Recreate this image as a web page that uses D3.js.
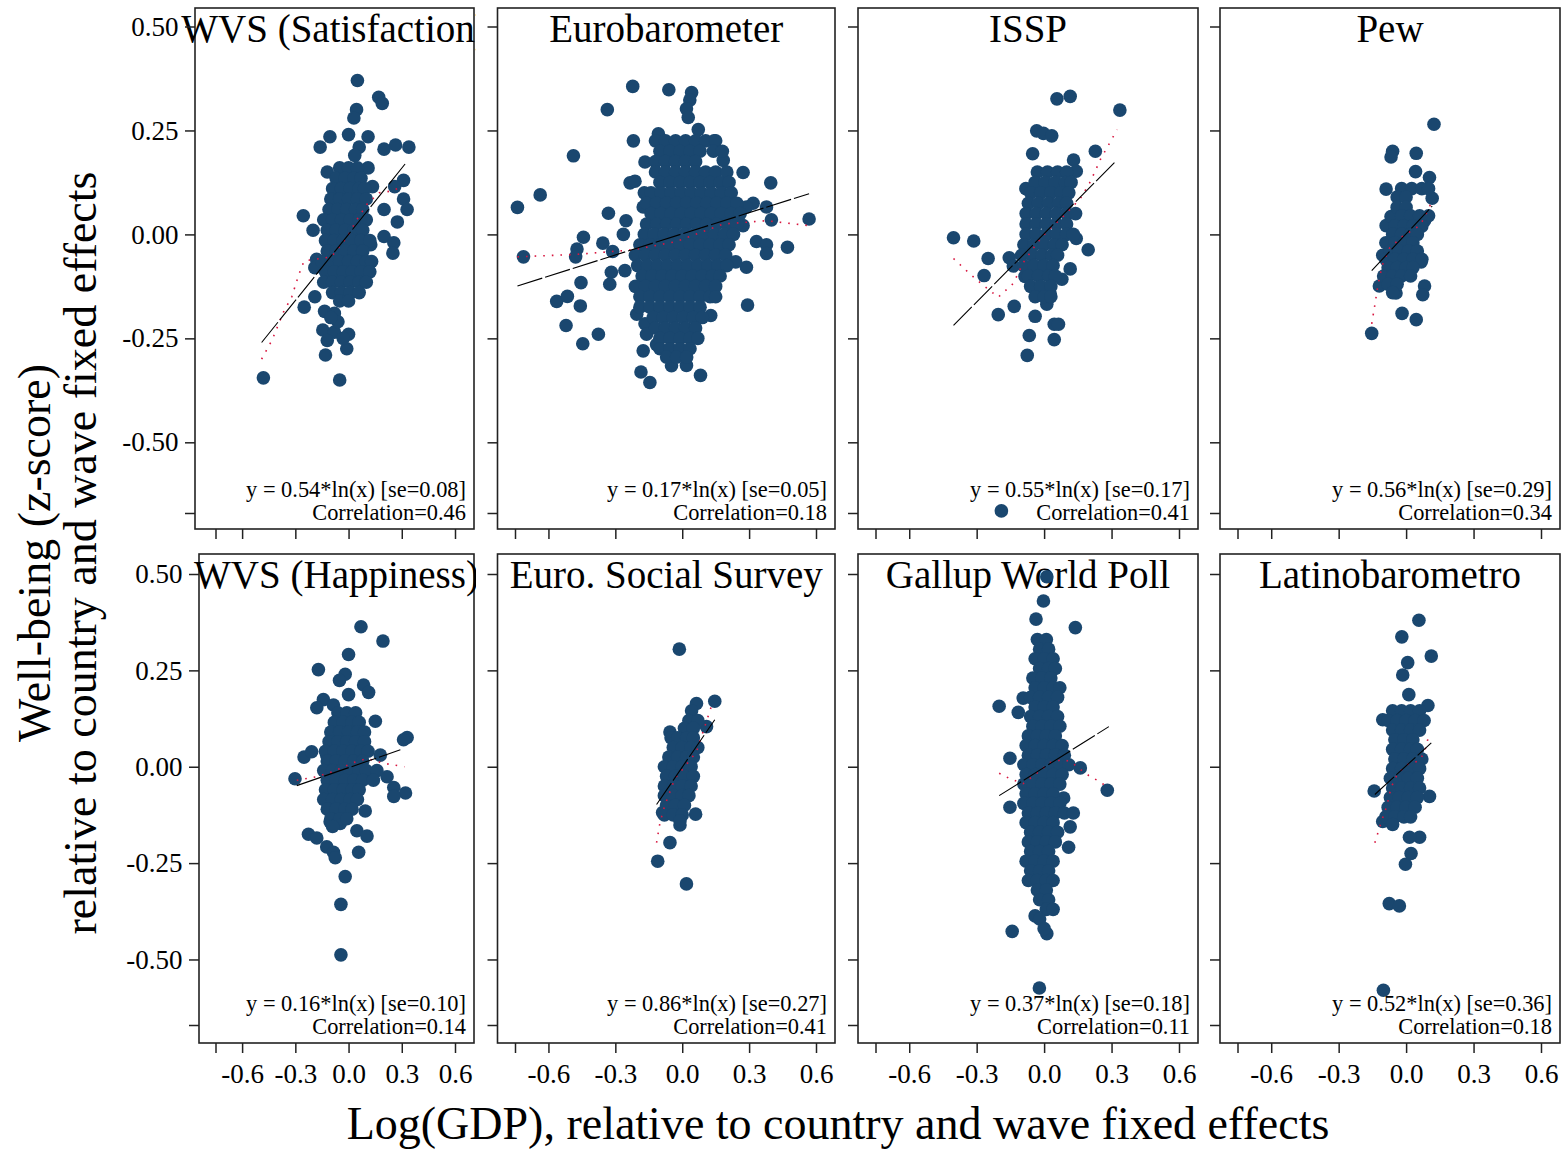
<!DOCTYPE html>
<html>
<head>
<meta charset="utf-8">
<script src="https://cdn.jsdelivr.net/npm/d3@7"></script>
<style>
    body { margin: 0; background: #fff; }
    text { font-family: "Liberation Serif", "Times New Roman", serif; fill: #000; }
</style>
</head>
<body>
<script>

// axis ticks (the last/first unlabeled ones are the axis ends)
const yTicks = [0.5, 0.25, 0, -0.25, -0.5, -0.67];
const yTickLabels = ["0.50", "0.25", "0.00", "-0.25", "-0.50", ""];
const xTicks = [-0.75, -0.6, -0.3, 0, 0.3, 0.6];
const xTickLabels = ["", "-0.6", "-0.3", "0.0", "0.3", "0.6"];

const panelTitles = ["WVS (Satisfaction)", "Eurobarometer", "ISSP", "Pew",
    "WVS (Happiness)", "Euro. Social Survey", "Gallup World Poll", "Latinobarometro"];
const fitLabels = ["y = 0.54*ln(x) [se=0.08]", "y = 0.17*ln(x) [se=0.05]", "y = 0.55*ln(x) [se=0.17]",
    "y = 0.56*ln(x) [se=0.29]", "y = 0.16*ln(x) [se=0.10]", "y = 0.86*ln(x) [se=0.27]",
    "y = 0.37*ln(x) [se=0.18]", "y = 0.52*ln(x) [se=0.36]"];
const corrLabels = ["Correlation=0.46", "Correlation=0.18", "Correlation=0.41", "Correlation=0.34",
    "Correlation=0.14", "Correlation=0.41", "Correlation=0.11", "Correlation=0.18"];

// scattered points as [x, y]; dense cores as rows [y, x1, x2, ...]
const wvsSatPts = [[-0.48,-0.345],[-0.05,-0.35],[0.05,0.37],[0.17,0.33],[0.19,0.315],[0.045,0.3],[0.03,0.28],[0,0.24],[-0.105,0.235],[-0.16,0.21],[0.11,0.235],[0.06,0.21],[0.2,0.205],[0.265,0.215],[0.34,0.21],[0.035,0.19],[-0.12,0.15],[0.11,0.16],[0.31,0.13],[0.26,0.115],[0.135,0.115],[0.31,0.085],[0.33,0.06],[0.2,0.06],[0.275,0.03],[-0.255,0.045],[-0.2,0.01],[0.2,-0.005],[0.255,-0.02],[0.25,-0.045],[0.125,-0.025],[-0.18,-0.06],[-0.19,-0.08],[-0.25,-0.175],[-0.19,-0.15],[-0.135,-0.185],[-0.08,-0.19],[-0.145,-0.23],[-0.08,-0.235],[0,-0.24],[-0.01,-0.275],[-0.13,-0.29],[-0.06,-0.21],[-0.1,-0.2],[-0.12,-0.255],[-0.03,-0.25]];
const wvsSatRows = [
    [0.16,-0.05,0,0.05],
    [0.135,-0.07,-0.02,0.03,0.07],
    [0.11,-0.09,-0.04,0.01,0.06,0.09],
    [0.085,-0.1,-0.05,0,0.05,0.1],
    [0.06,-0.11,-0.06,-0.01,0.04,0.08],
    [0.035,-0.14,-0.09,-0.04,0.01,0.06,0.1],
    [0.01,-0.12,-0.07,-0.02,0.03,0.08],
    [-0.015,-0.13,-0.08,-0.03,0.02,0.07,0.12],
    [-0.04,-0.12,-0.07,-0.02,0.03,0.08],
    [-0.065,-0.15,-0.1,-0.05,0,0.05,0.1,0.13],
    [-0.09,-0.13,-0.08,-0.03,0.02,0.07,0.12],
    [-0.115,-0.14,-0.09,-0.04,0.01,0.06,0.1],
    [-0.14,-0.09,-0.04,0.01,0.06],
    [-0.16,-0.05,0]];
const wvsSatFit = [[-0.49,-0.26],[0.32,0.17]];
const wvsSatLowess = [[-0.49,-0.3],[-0.43,-0.253],[-0.367,-0.187],[-0.32,-0.15],[-0.283,-0.1],[-0.251,-0.064],[-0.19,-0.06],[-0.097,-0.054],[-0.004,-0.004],[0.043,0.033],[0.108,0.075],[0.173,0.1],[0.238,0.104],[0.285,0.112]];

const euroPts = [[-0.222,0.356],[-0.06,0.348],[-0.336,0.3],[0.042,0.341],[0.034,0.323],[0.019,0.302],[0.027,0.281],[-0.219,0.225],[-0.107,0.242],[0.072,0.252],[0.143,0.225],[-0.488,0.189],[-0.167,0.174],[0.184,0.178],[0.273,0.149],[0.397,0.124],[-0.637,0.095],[-0.739,0.065],[-0.234,0.124],[-0.212,0.128],[-0.17,0.1],[-0.175,0.066],[-0.331,0.051],[-0.252,0.033],[-0.264,0],[-0.443,-0.007],[-0.356,-0.021],[-0.472,-0.035],[-0.478,-0.054],[-0.712,-0.054],[-0.312,-0.041],[-0.257,-0.087],[-0.318,-0.091],[-0.325,-0.12],[-0.454,-0.116],[-0.563,-0.161],[-0.515,-0.149],[-0.457,-0.172],[-0.521,-0.219],[-0.376,-0.24],[-0.446,-0.263],[0.569,0.037],[0.472,-0.031],[0.4,0.035],[0.378,0.066],[0.318,0.075],[0.288,0.066],[0.333,-0.017],[0.378,-0.025],[0.378,-0.046],[0.288,-0.079],[0.293,-0.17],[0.24,-0.066],[0.273,0.021],[0.128,-0.195],[0.136,-0.149],[-0.185,-0.331],[-0.145,-0.356],[-0.048,-0.316],[0.019,-0.315],[0.082,-0.339],[-0.204,-0.192],[-0.167,-0.215],[-0.16,-0.24],[-0.175,-0.28],[-0.115,-0.265]];
const euroRows = [
    [0.225,-0.12,-0.075,-0.03,0.015,0.06,0.105,0.15],
    [0.2,-0.1,-0.055,-0.01,0.035,0.08,0.14,0.18],
    [0.175,-0.12,-0.075,-0.03,0.015,0.06],
    [0.15,-0.12,-0.075,-0.03,0.015,0.06,0.105,0.15,0.2],
    [0.125,-0.1,-0.055,-0.01,0.035,0.08,0.125,0.17,0.21],
    [0.1,-0.14,-0.095,-0.05,-0.005,0.04,0.085,0.13,0.175,0.22],
    [0.075,-0.16,-0.115,-0.07,-0.025,0.02,0.065,0.11,0.155,0.2,0.245],
    [0.05,-0.14,-0.095,-0.05,-0.005,0.04,0.085,0.13,0.175,0.22,0.26],
    [0.025,-0.16,-0.115,-0.07,-0.025,0.02,0.065,0.11,0.155,0.2,0.245],
    [0,-0.17,-0.125,-0.08,-0.035,0.01,0.055,0.1,0.145,0.19,0.23],
    [-0.025,-0.19,-0.145,-0.1,-0.055,-0.01,0.035,0.08,0.125,0.17,0.21],
    [-0.05,-0.21,-0.165,-0.12,-0.075,-0.03,0.015,0.06,0.105,0.15,0.195],
    [-0.075,-0.2,-0.155,-0.11,-0.065,-0.02,0.025,0.07,0.115,0.16,0.2],
    [-0.1,-0.18,-0.135,-0.09,-0.045,0,0.045,0.09,0.135,0.17],
    [-0.125,-0.21,-0.165,-0.12,-0.075,-0.03,0.015,0.06,0.105,0.15],
    [-0.15,-0.19,-0.145,-0.1,-0.055,-0.01,0.035,0.08,0.125,0.15],
    [-0.175,-0.19,-0.145,-0.1,-0.055,-0.01,0.035,0.08],
    [-0.2,-0.13,-0.085,-0.04,0.005,0.05,0.09],
    [-0.225,-0.12,-0.075,-0.03,0.015,0.06],
    [-0.25,-0.1,-0.055,-0.01,0.035,0.07],
    [-0.275,-0.1,-0.055,-0.01,0.035],
    [-0.295,-0.07,-0.025,0.02]];
const euroFit = [[-0.739,-0.124],[0.569,0.098]];
const euroLowess = [[-0.739,-0.054],[-0.473,-0.048],[-0.219,-0.037],[-0.025,-0.017],[0.184,0.025],[0.378,0.033],[0.569,0.021]];

const isspPts = [[0.057,0.326],[0.116,0.332],[0.337,0.299],[-0.033,0.249],[-0.003,0.243],[0.034,0.237],[-0.051,0.194],[0.228,0.2],[0.131,0.179],[0.143,0.152],[-0.081,0.11],[-0.403,-0.008],[-0.313,-0.016],[-0.249,-0.058],[-0.267,-0.099],[-0.155,-0.056],[-0.137,-0.076],[-0.204,-0.193],[-0.133,-0.173],[-0.04,-0.197],[0.045,-0.216],[0.064,-0.216],[-0.066,-0.243],[0.045,-0.253],[-0.075,-0.291],[0.196,-0.037],[0.143,-0.01],[0.116,-0.083],[0.079,-0.108],[-0.19,-0.665],[0.012,-0.168],[0.027,-0.143],[-0.025,-0.135],[-0.085,-0.101]];
const isspRows = [
    [0.15,-0.03,0.015,0.06,0.1],
    [0.125,-0.04,0.005,0.05,0.095,0.12],
    [0.1,-0.06,-0.015,0.03,0.075,0.11],
    [0.075,-0.07,-0.025,0.02,0.065,0.1],
    [0.05,-0.08,-0.035,0.01,0.055,0.1,0.14],
    [0.025,-0.08,-0.035,0.01,0.055,0.1],
    [0,-0.08,-0.035,0.01,0.055,0.1,0.13],
    [-0.025,-0.09,-0.045,0,0.045,0.08],
    [-0.05,-0.1,-0.055,-0.01,0.035,0.06],
    [-0.075,-0.09,-0.045,0,0.04],
    [-0.1,-0.07,-0.025,0.02,0.05],
    [-0.125,-0.06,-0.015,0.03],
    [-0.15,-0.04,0,0.03]];
const isspFit = [[-0.403,-0.219],[0.313,0.173]];
const isspLowess = [[-0.403,-0.058],[-0.334,-0.093],[-0.272,-0.122],[-0.204,-0.151],[-0.137,-0.118],[-0.093,-0.068],[-0.033,-0.022],[0.012,0.007],[0.079,0.04],[0.161,0.086],[0.206,0.127],[0.251,0.181],[0.325,0.252]];

const pewPts = [[0.124,0.265],[-0.06,0.2],[-0.067,0.186],[0.045,0.195],[0.042,0.151],[0.104,0.137],[-0.089,0.109],[0.116,0.087],[-0.089,0.021],[-0.067,0.043],[0.082,0.033],[-0.119,-0.124],[-0.045,-0.141],[0.082,-0.124],[0.074,-0.145],[-0.018,-0.19],[0.045,-0.205],[-0.153,-0.238],[-0.104,-0.05],[0.067,-0.066]];
const pewRows = [
    [0.11,-0.02,0.025,0.07,0.1],
    [0.09,-0.04,0],
    [0.065,-0.04,0],
    [0.045,-0.02,0.02,0.06,0.1],
    [0.02,-0.05,-0.01,0.03,0.07],
    [0,-0.06,-0.02,0.02,0.05],
    [-0.02,-0.09,-0.05,-0.01,0.03],
    [-0.04,-0.07,-0.03,0.01,0.05],
    [-0.06,-0.09,-0.05,-0.01,0.03,0.07],
    [-0.08,-0.08,-0.04,0,0.03],
    [-0.1,-0.1,-0.06,-0.02,0.02],
    [-0.12,-0.08,-0.04],
    [-0.14,-0.06]];
const pewFit = [[-0.153,-0.087],[0.116,0.068]];
const pewLowess = [[-0.153,-0.215],[-0.138,-0.166],[-0.126,-0.124],[-0.107,-0.075],[-0.074,-0.033],[-0.015,-0.004],[0.06,0.021],[0.082,0.041],[0.119,0.084]];

const wvsHapPts = [[0.07,0.363],[0.194,0.326],[0,0.291],[-0.17,0.252],[-0.019,0.24],[-0.051,0.224],[0,0.187],[0.085,0.212],[0.113,0.193],[-0.142,0.174],[-0.179,0.153],[-0.085,0.16],[0.151,0.118],[0.33,0.076],[0.31,0.07],[-0.251,0.025],[-0.208,0.039],[-0.302,-0.031],[0.217,-0.026],[0.255,-0.054],[0.321,-0.068],[0.255,-0.077],[0.094,-0.115],[-0.226,-0.175],[-0.179,-0.185],[-0.123,-0.208],[-0.085,-0.222],[-0.075,-0.236],[0.057,-0.222],[0.047,-0.166],[0.104,-0.18],[-0.019,-0.285],[-0.043,-0.357],[-0.043,-0.488],[-0.104,-0.143],[-0.047,-0.147],[0.179,0.03],[-0.123,0.03]];
const wvsHapRows = [
    [0.14,-0.06,-0.01,0.04],
    [0.115,-0.08,-0.03,0.02,0.06],
    [0.09,-0.1,-0.05,0,0.05,0.09],
    [0.065,-0.11,-0.06,-0.01,0.04,0.09],
    [0.04,-0.13,-0.08,-0.03,0.02,0.07,0.11],
    [0.015,-0.12,-0.07,-0.02,0.03,0.08],
    [-0.01,-0.14,-0.09,-0.04,0.01,0.06,0.1,0.16],
    [-0.035,-0.12,-0.07,-0.02,0.03,0.08,0.14],
    [-0.06,-0.13,-0.08,-0.03,0.02,0.06],
    [-0.085,-0.14,-0.09,-0.04,0.01,0.05],
    [-0.11,-0.12,-0.07,-0.02,0.02],
    [-0.135,-0.1,-0.05,-0.01],
    [-0.155,-0.09]];
const wvsHapFit = [[-0.292,-0.049],[0.292,0.044]];
const wvsHapLowess = [[-0.292,-0.035],[-0.179,-0.026],[-0.085,-0.012],[0.028,0.011],[0.104,0.021],[0.198,0.009],[0.315,0]];

const essPts = [[-0.013,0.305],[0.146,0.17],[0.064,0.164],[0.042,0.145],[-0.055,0.09],[0.109,0.104],[-0.11,-0.245],[-0.055,-0.197],[0.019,-0.304],[0.06,-0.123],[-0.01,-0.151],[-0.088,-0.119]];
const essRows = [
    [0.12,0.03,0.07],
    [0.1,0.01,0.05],
    [0.075,-0.05,-0.02,0.02,0.05],
    [0.05,-0.04,0,0.04,0.07],
    [0.025,-0.06,-0.02,0.02,0.05],
    [0,-0.08,-0.04,0,0.04],
    [-0.025,-0.07,-0.03,0.01,0.05],
    [-0.05,-0.08,-0.04,0,0.04],
    [-0.075,-0.08,-0.04,0,0.03],
    [-0.1,-0.07,-0.03,0.01],
    [-0.125,-0.08,-0.04,0],
    [-0.14,-0.01]];
const essFit = [[-0.115,-0.098],[0.146,0.122]];
const essLowess = [[-0.115,-0.197],[-0.1,-0.146],[-0.078,-0.1],[-0.033,-0.031],[0.019,0.006],[0.064,0.039],[0.106,0.113],[0.131,0.157]];

const gallupPts = [[0.012,0.493],[-0.003,0.43],[-0.036,0.383],[0.139,0.361],[-0.2,0.157],[-0.093,0.178],[-0.115,0.141],[0.281,-0.061],[-0.152,0.022],[-0.152,-0.105],[0.109,-0.209],[0.116,-0.156],[-0.142,-0.427],[0.012,-0.433],[-0.04,-0.387],[-0.021,-0.574],[0.087,-0.081],[0.161,-0.003]];
const gallupRows = [
    [0.33,-0.03,0.01],
    [0.305,-0.02,0.02],
    [0.28,-0.04,0,0.04],
    [0.255,-0.02,0.02,0.05],
    [0.23,-0.05,-0.01,0.03],
    [0.205,-0.04,0,0.04,0.07],
    [0.18,-0.06,-0.02,0.02,0.06],
    [0.155,-0.04,0,0.04],
    [0.13,-0.06,-0.02,0.02,0.06],
    [0.105,-0.05,-0.01,0.03,0.07],
    [0.08,-0.07,-0.03,0.01,0.05],
    [0.055,-0.08,-0.04,0,0.04,0.08],
    [0.03,-0.07,-0.03,0.01,0.05,0.09],
    [0.005,-0.09,-0.05,-0.01,0.03,0.07,0.11],
    [-0.02,-0.08,-0.04,0,0.04,0.08],
    [-0.045,-0.09,-0.05,-0.01,0.03,0.07],
    [-0.07,-0.08,-0.04,0,0.04],
    [-0.095,-0.09,-0.05,-0.01,0.03,0.07],
    [-0.12,-0.07,-0.03,0.01,0.05,0.09,0.13],
    [-0.145,-0.08,-0.04,0,0.04],
    [-0.17,-0.06,-0.02,0.02,0.06],
    [-0.195,-0.07,-0.03,0.01,0.05],
    [-0.22,-0.06,-0.02,0.02],
    [-0.245,-0.08,-0.04,0,0.04],
    [-0.27,-0.06,-0.02,0.02],
    [-0.295,-0.07,-0.03,0.01,0.04],
    [-0.32,-0.03,0.01],
    [-0.345,-0.02,0.02],
    [-0.37,0.01,0.04],
    [-0.395,-0.02],
    [-0.42,0]];
const gallupFit = [[-0.2,-0.075],[0.288,0.104]];
const gallupLowess = [[-0.2,-0.017],[-0.152,-0.031],[-0.093,-0.044],[-0.033,-0.017],[0.027,0.011],[0.087,0.019],[0.124,0.011],[0.161,-0.007],[0.199,-0.023],[0.236,-0.035],[0.273,-0.049]];

const latinoPts = [[0.057,0.38],[-0.019,0.337],[0.112,0.287],[0.007,0.27],[-0.015,0.238],[0.012,0.187],[-0.075,-0.355],[-0.03,-0.361],[-0.101,-0.58],[-0.003,-0.253],[0.022,-0.225],[0.06,-0.183],[0.015,-0.183],[-0.142,-0.063],[0.104,-0.077],[-0.104,-0.142],[0.097,0.159],[-0.104,0.122]];
const latinoRows = [
    [0.145,-0.06,-0.02,0.02,0.06],
    [0.12,-0.08,-0.04,0,0.04,0.08],
    [0.095,-0.06,-0.02,0.02,0.06],
    [0.07,-0.05,-0.01,0.03],
    [0.045,-0.06,-0.02,0.02,0.05],
    [0.02,-0.05,-0.01,0.03,0.07],
    [-0.005,-0.06,-0.02,0.02,0.06],
    [-0.03,-0.07,-0.03,0.01,0.05],
    [-0.055,-0.06,-0.02,0.02,0.06],
    [-0.08,-0.07,-0.03,0.01,0.05],
    [-0.105,-0.08,-0.04,0,0.04],
    [-0.13,-0.09,-0.05,-0.01,0.02],
    [-0.15,-0.06]];
const latinoFit = [[-0.139,-0.072],[0.112,0.062]];
const latinoLowess = [[-0.139,-0.197],[-0.112,-0.146],[-0.085,-0.1],[-0.067,-0.054],[-0.037,-0.017],[0.007,0.006],[0.06,0.016],[0.082,0.039],[0.101,0.081]];

const panelPts = [wvsSatPts, euroPts, isspPts, pewPts, wvsHapPts, essPts, gallupPts, latinoPts];
const panelRows = [wvsSatRows, euroRows, isspRows, pewRows, wvsHapRows, essRows, gallupRows, latinoRows];
const panelFits = [wvsSatFit, euroFit, isspFit, pewFit, wvsHapFit, essFit, gallupFit, latinoFit];
const panelLowess = [wvsSatLowess, euroLowess, isspLowess, pewLowess, wvsHapLowess, essLowess, gallupLowess, latinoLowess];


/** Class drawing the 2x4 grid of survey scatter plots. */
class SurveyGrid {

    constructor() {
        this.width = 1562;
        this.height = 1151;
        this.svg = d3.select("body").append("svg")
            .attr("width", this.width)
            .attr("height", this.height);

        //panel boxes: columns share x extents, rows share y extents
        this.cols = [[195, 474], [497.5, 835], [858, 1198], [1220, 1560]];
        this.rows = [
            {top: 8, bottom: 529, padTop: 18.5, padBottom: 16},
            {top: 554, bottom: 1043, padTop: 20, padBottom: 18}];
        this.navy = "#1a476f";
    }

    drawPanel(i) {
        let col = i % 4, row = Math.floor(i / 4);
        let r = this.rows[row];
        let left = this.cols[col][0], right = this.cols[col][1];
        if (col === 0 && row === 1) left = 199;
        let plotLeft = col === 0 ? 215.5 : left + 17.5;

        let x = d3.scaleLinear().domain([-0.75, 0.6]).range([plotLeft, right - 19]);
        let y = d3.scaleLinear().domain([-0.67, 0.5]).range([r.bottom - r.padBottom, r.top + r.padTop]);

        let g = this.svg.append("g");

        g.append("rect")
            .attr("x", left).attr("y", r.top)
            .attr("width", right - left).attr("height", r.bottom - r.top)
            .attr("fill", "#fff").attr("stroke", "#222").attr("stroke-width", 1.6);

        //title is clipped at the right edge of the panel
        let clipId = "clip" + i;
        this.svg.append("clipPath").attr("id", clipId)
            .append("rect").attr("x", 0).attr("y", r.top - 5)
            .attr("width", right + 2).attr("height", 60);
        g.append("text")
            .attr("clip-path", "url(#" + clipId + ")")
            .attr("x", (left + right) / 2).attr("y", r.top + 34)
            .attr("text-anchor", "middle")
            .style("font-size", "39px")
            .text(panelTitles[i]);

        let pts = panelPts[i].concat(panelRows[i].flatMap(rw => rw.slice(1).map(v => [v, rw[0]])));
        g.selectAll("circle").data(pts).enter().append("circle")
            .attr("cx", d => x(d[0]))
            .attr("cy", d => y(d[1]))
            .attr("r", 6.8)
            .attr("fill", this.navy);

        let line = d3.line().x(d => x(d[0])).y(d => y(d[1]));

        g.append("path").datum(panelLowess[i])
            .attr("d", line)
            .attr("fill", "none")
            .attr("stroke", "#d8163f")
            .attr("stroke-width", 1.6)
            .attr("stroke-dasharray", "1.6,7");

        g.append("path").datum(panelFits[i])
            .attr("d", line)
            .attr("fill", "none")
            .attr("stroke", "#000")
            .attr("stroke-width", 1.1)
            .attr("stroke-dasharray", "26,3");

        g.append("text")
            .attr("x", right - 8).attr("y", r.bottom - 32)
            .attr("text-anchor", "end")
            .style("font-size", "22.4px")
            .text(fitLabels[i]);
        g.append("text")
            .attr("x", right - 8).attr("y", r.bottom - 9)
            .attr("text-anchor", "end")
            .style("font-size", "22.4px")
            .text(corrLabels[i]);

        //axes
        let yAxis = d3.axisLeft(y).tickValues(yTicks).tickSize(10).tickPadding(6.5)
            .tickFormat((d, k) => col === 0 ? yTickLabels[k] : "");
        let ya = g.append("g").attr("transform", "translate(" + left + ",0)").call(yAxis);

        let xAxis = d3.axisBottom(x).tickValues(xTicks).tickSize(10).tickPadding(11)
            .tickFormat((d, k) => row === 1 ? xTickLabels[k] : "");
        let xa = g.append("g").attr("transform", "translate(0," + r.bottom + ")").call(xAxis);

        [ya, xa].forEach(a => {
            a.select(".domain").remove();
            a.selectAll("line").attr("stroke", "#222").attr("stroke-width", 1.5);
            a.selectAll("text")
                .style("font-family", "'Liberation Serif', 'Times New Roman', serif")
                .style("font-size", "27px")
                .attr("fill", "#000");
        });
    }

    drawTitles() {
        let yTitle = this.svg.append("g")
            .attr("transform", "translate(0,553) rotate(-90)");
        yTitle.append("text")
            .attr("x", 0).attr("y", 50)
            .attr("text-anchor", "middle")
            .style("font-size", "46px")
            .text("Well-being (z-score)");
        yTitle.append("text")
            .attr("x", 0).attr("y", 96)
            .attr("text-anchor", "middle")
            .style("font-size", "46px")
            .text("relative to country and wave fixed effects");

        this.svg.append("text")
            .attr("x", 838).attr("y", 1139)
            .attr("text-anchor", "middle")
            .style("font-size", "46px")
            .text("Log(GDP), relative to country and wave fixed effects");
    }

    update() {
        for (let i = 0; i < 8; i++) {
            this.drawPanel(i);
        }
        this.drawTitles();
    }
}

let grid = new SurveyGrid();
grid.update();

</script>
</body>
</html>
